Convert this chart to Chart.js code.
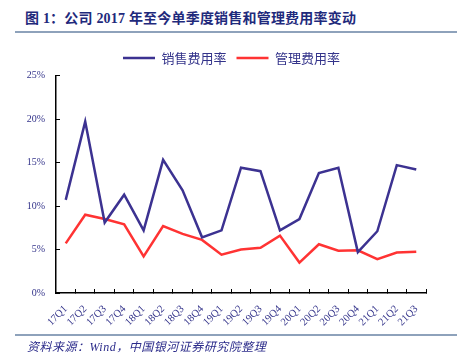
<!DOCTYPE html>
<html>
<head>
<meta charset="utf-8">
<script src="https://cdn.jsdelivr.net/npm/chart.js@4"></script>
<style>
    body { margin: 0; background: #fff; }
    #wrap { position: relative; width: 457px; height: 354px; overflow: hidden; }
    #myChart { position: absolute; left: 0; top: 0; }
    .titel { position: absolute; left: 25px; top: 7px; font: bold 14px "Liberation Serif", "Noto Sans CJK SC"; color: #1f2a7c; white-space: nowrap; letter-spacing: 0.2px; }
    .kreska { position: absolute; left: 15px; width: 442px; height: 2px; background: #8ea2bb; }
    .zrodlo { position: absolute; left: 27px; top: 337px; font: italic 12px "Liberation Serif", "Noto Sans CJK SC"; color: #2b2b8a; white-space: nowrap; letter-spacing: 0.5px; }
</style>
</head>
<body>
<div id="wrap">
    <div class="titel">图 1：公司 2017 年至今单季度销售和管理费用率变动</div>
    <div class="kreska" style="top:31px"></div>
    <canvas id="myChart" width="457" height="354"></canvas>
    <div class="kreska" style="top:334px"></div>
    <div class="zrodlo">资料来源：Wind，中国银河证券研究院整理</div>
</div>
<script>
// kwartaly
let kwartaly = ['17Q1','17Q2','17Q3','17Q4','18Q1','18Q2','18Q3','18Q4','19Q1','19Q2','19Q3','19Q4',
    '20Q1','20Q2','20Q3','20Q4','21Q1','21Q2','21Q3'];
// 销售费用率 (%)
let sprzedaz = [10.7, 19.7, 8.1, 11.3, 7.2, 15.3, 11.8, 6.4, 7.2, 14.4, 14.0, 7.2,
    8.5, 13.8, 14.4, 4.7, 7.1, 14.7, 14.2];
// 管理费用率 (%)
let zarzad = [5.7, 9.0, 8.5, 7.9, 4.2, 7.7, 6.8, 6.1, 4.4, 5.0, 5.2, 6.6,
    3.5, 5.6, 4.85, 4.9, 3.9, 4.65, 4.75];

let kolor_tekst = '#33338a';
let serif = '"Liberation Serif", "Noto Sans CJK SC"';

// odstep pod legenda + przesuniecie legendy nad srodek wykresu
const legendMargin = {
    id: 'legendMargin',
    beforeInit(chart) {
        const fit = chart.legend.fit;
        chart.legend.fit = function () {
            fit.bind(chart.legend)();
            this.height += 1;
        };
    },
    afterLayout(chart) {
        chart.legend.left += 8.5;
        chart.legend.right += 8.5;
    }
};

let ctx = document.getElementById('myChart').getContext('2d');
let wykres = new Chart(ctx, {
    type: 'line',
    data: {
        labels: kwartaly,
        datasets: [
            {
                label: '销售费用率',
                data: sprzedaz,
                borderColor: '#3c3291',
                backgroundColor: '#3c3291',
                borderWidth: 2.5,
                pointRadius: 0,
                tension: 0
            },
            {
                label: '管理费用率',
                data: zarzad,
                borderColor: '#ff3333',
                backgroundColor: '#ff3333',
                borderWidth: 2.5,
                pointRadius: 0,
                tension: 0
            }
        ]
    },
    plugins: [legendMargin],
    options: {
        responsive: false,
        animation: false,
        layout: { padding: { left: 20, right: 31, top: 41.5, bottom: 0 } },
        plugins: {
            tooltip: { enabled: false },
            legend: {
                position: 'top',
                labels: {
                    usePointStyle: true,
                    pointStyle: 'line',
                    pointStyleWidth: 32,
                    boxHeight: 13,
                    padding: 10,
                    color: kolor_tekst,
                    font: { size: 13, family: '"Noto Sans CJK SC"' }
                }
            }
        },
        scales: {
            x: {
                offset: true,
                grid: { display: true, drawOnChartArea: false, offset: true, tickLength: -4, color: '#000', lineWidth: 1 },
                border: { color: '#000', width: 1.5 },
                ticks: {
                    autoSkip: false, minRotation: 45, maxRotation: 45, padding: 14,
                    color: kolor_tekst, font: { size: 10.5, family: serif }
                },
                afterFit: function (scale) { scale.height = 61; }
            },
            y: {
                min: 0,
                max: 25,
                grid: { display: true, drawOnChartArea: false, tickLength: -4, color: '#000' },
                border: { color: '#000', width: 1.5 },
                ticks: {
                    stepSize: 5, padding: 15,
                    color: kolor_tekst, font: { size: 10, family: serif },
                    callback: function (v) { return v + '%'; }
                },
                afterFit: function (scale) { scale.width = 36; }
            }
        }
    }
});
</script>
</body>
</html>
